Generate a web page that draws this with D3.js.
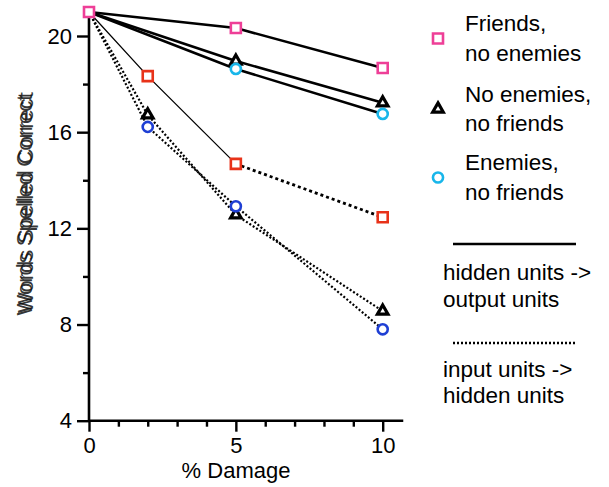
<!DOCTYPE html>
<html>
<head>
    <title>Words Spelled Correct vs % Damage</title>
    <script src="https://d3js.org/d3.v7.min.js"></script>
    <style>
        body { margin: 0; background: #fff; }
        text { font-family: "Liberation Sans", Arial, Helvetica, sans-serif; fill: #000; }
    </style>
</head>
<body>
    <div class="chart"></div>
    <script>
        // Damage levels (x values)
        const hiddenDamage = [0, 5, 10];
        const inputDamage = [0, 2, 5, 10];

        // hidden units -> output units (solid lines)
        const friendsHO = [21, 20.33, 18.67];
        const neutralHO = [21, 18.96, 17.22];
        const enemiesHO = [21, 18.63, 16.76];

        // input units -> hidden units (dotted lines)
        const friendsIH = [21, 18.33, 14.68, 12.46];
        const neutralIH = [21, 16.72, 12.56, 8.56];
        const enemiesIH = [21, 16.22, 12.92, 7.8];

        const xTicks = [0, 5, 10];
        const xMinor = [1, 2, 3, 4, 6, 7, 8, 9];
        const yTicks = [4, 8, 12, 16, 20];
        const yMinor = [6, 10, 14, 18];

        const legendLabels = [["Friends,", "no enemies"], ["No enemies,", "no friends"], ["Enemies,", "no friends"]];
        const lineLabels = [["hidden units ->", "output units"], ["input units ->", "hidden units"]];

        const pink = "#ee3f97", red = "#e83219", cyan = "#18b6ea", blue = "#1f3fd4";

        const width = 609, height = 487;
        const svg = d3.select(".chart").append("svg")
            .attr("width", width)
            .attr("height", height);

        const x = d3.scaleLinear().domain([0, 10]).range([89, 382.7]);
        const y = d3.scaleLinear().domain([4, 20]).range([420.7, 36]);

        const zip = (xs, ys) => xs.map((d, i) => [d, ys[i]]);
        const line = d3.line().x(d => x(d[0])).y(d => y(d[1]));

        // axis lines
        svg.append("line")
            .attr("x1", x(0)).attr("x2", x(10.7))
            .attr("y1", y(4)).attr("y2", y(4))
            .attr("stroke", "#000").attr("stroke-width", 2.6);
        svg.append("line")
            .attr("x1", x(0)).attr("x2", x(0))
            .attr("y1", y(4)).attr("y2", y(21))
            .attr("stroke", "#000").attr("stroke-width", 2.6);

        const styleAxis = g => {
            g.select(".domain").remove();
            g.selectAll("line").attr("stroke", "#000").attr("stroke-width", 2.4);
            g.selectAll("text").attr("font-size", 22).style("fill", "#000");
        };

        svg.append("g")
            .attr("transform", `translate(0,${y(4)})`)
            .call(d3.axisBottom(x).tickValues(xTicks).tickSize(11).tickPadding(6))
            .call(styleAxis);
        svg.append("g")
            .attr("transform", `translate(0,${y(4)})`)
            .call(d3.axisBottom(x).tickValues(xMinor).tickSize(6).tickFormat(""))
            .call(styleAxis);
        svg.append("g")
            .attr("transform", `translate(${x(0)},0)`)
            .call(d3.axisLeft(y).tickValues(yTicks).tickSize(12).tickPadding(5))
            .call(styleAxis);
        svg.append("g")
            .attr("transform", `translate(${x(0)},0)`)
            .call(d3.axisLeft(y).tickValues(yMinor).tickSize(6).tickFormat(""))
            .call(styleAxis);

        // axis titles
        svg.append("text")
            .attr("x", 236).attr("y", 478)
            .attr("text-anchor", "middle")
            .attr("font-size", 22)
            .text("% Damage");

        // the y title is printed twice, slightly offset, as in the source
        [[0, 0], [1.2, -2.5]].forEach(([dx, dy]) => {
            svg.append("text")
                .attr("transform", `translate(${32 + dx},${205 + dy}) rotate(-90)`)
                .attr("text-anchor", "middle")
                .attr("font-size", 22)
                .attr("fill-opacity", 0.85)
                .style("fill", "#111")
                .text("Words Spelled Correct");
        });

        // lines: solid
        [friendsHO, neutralHO, enemiesHO].forEach(vals => {
            svg.append("path")
                .datum(zip(hiddenDamage, vals))
                .attr("d", line)
                .attr("fill", "none")
                .attr("stroke", "#000")
                .attr("stroke-width", 2.6);
        });

        // lines: dotted
        const friendsIHpts = zip(inputDamage, friendsIH);
        svg.append("path")
            .datum(friendsIHpts.slice(0, 3))
            .attr("d", line)
            .attr("fill", "none")
            .attr("stroke", "#000")
            .attr("stroke-width", 1.3);
        svg.append("path")
            .datum(friendsIHpts.slice(2))
            .attr("d", line)
            .attr("fill", "none")
            .attr("stroke", "#000")
            .attr("stroke-width", 2.8)
            .attr("stroke-dasharray", "3,3");
        [neutralIH, enemiesIH].forEach(vals => {
            svg.append("path")
                .datum(zip(inputDamage, vals))
                .attr("d", line)
                .attr("fill", "none")
                .attr("stroke", "#000")
                .attr("stroke-width", 2.2)
                .attr("stroke-dasharray", "2,2");
        });

        // markers
        const square = d3.symbol().type(d3.symbolSquare).size(100);
        const triangle = d3.symbol().type(d3.symbolTriangle).size(48);
        const circle = d3.symbol().type(d3.symbolCircle).size(80);

        const markerSets = [
            [zip(hiddenDamage, friendsHO), square, pink, 2.6],
            [zip(hiddenDamage, neutralHO).slice(1), triangle, "#000", 3.2],
            [zip(hiddenDamage, enemiesHO).slice(1), circle, cyan, 2.6],
            [zip(inputDamage, friendsIH).slice(1), square, red, 2.6],
            [zip(inputDamage, neutralIH).slice(1), triangle, "#000", 3.2],
            [zip(inputDamage, enemiesIH).slice(1), circle, blue, 2.6]
        ];
        markerSets.forEach(([pts, sym, color, sw]) => {
            svg.selectAll(null)
                .data(pts)
                .enter()
                .append("path")
                .attr("transform", d => `translate(${x(d[0])},${y(d[1])})`)
                .attr("d", sym)
                .attr("fill", "#fff")
                .attr("stroke", color)
                .attr("stroke-width", sw);
        });

        // legend: markers
        const legendSyms = [[square, pink, 2.6], [triangle, "#000", 3.2], [circle, cyan, 2.6]];
        const legendY = [31, 101.5, 170];
        legendSyms.forEach(([sym, color, sw], i) => {
            svg.append("path")
                .attr("transform", `translate(438,${legendY[i] + 7.5})`)
                .attr("d", sym)
                .attr("fill", "#fff")
                .attr("stroke", color)
                .attr("stroke-width", sw);
            legendLabels[i].forEach((t, j) => {
                svg.append("text")
                    .attr("x", 465).attr("y", legendY[i] + j * 29.5)
                    .attr("font-size", 22.5)
                    .text(t);
            });
        });

        // legend: line styles
        const lineY = [244, 343];
        const textY = [280, 376.7];
        lineLabels.forEach((lbl, i) => {
            svg.append("line")
                .attr("x1", 453).attr("x2", 576)
                .attr("y1", lineY[i]).attr("y2", lineY[i])
                .attr("stroke", "#000")
                .attr("stroke-width", i === 0 ? 2.6 : 2.4)
                .attr("stroke-dasharray", i === 0 ? null : "2,2");
            lbl.forEach((t, j) => {
                svg.append("text")
                    .attr("x", 443).attr("y", textY[i] + j * 26.5)
                    .attr("font-size", 22.5)
                    .text(t);
            });
        });
    </script>
</body>
</html>
